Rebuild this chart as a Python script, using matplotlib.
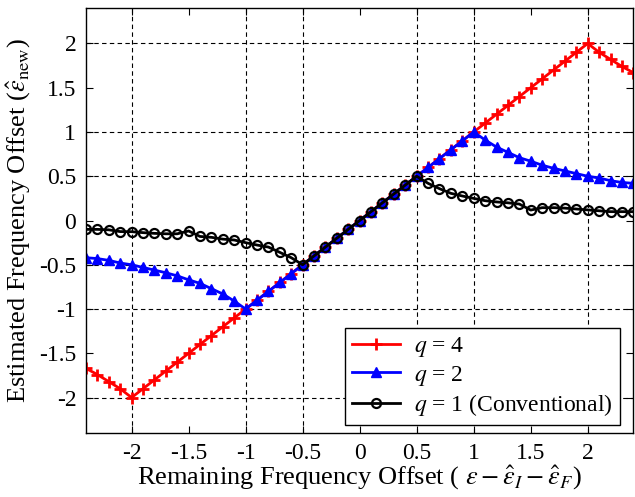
import matplotlib
matplotlib.use("Agg")
import matplotlib.pyplot as plt
import numpy as np

plt.rcParams['font.family'] = ['Liberation Serif', 'DejaVu Serif']
plt.rcParams['mathtext.fontset'] = 'stix'

x = [round(-2.4 + 0.1 * i, 1) for i in range(49)]

# q = 4
q4_right = [1.90, 1.82, 1.74, 1.67]
q4 = [-v for v in q4_right[::-1]] + [round(-2.0 + 0.1 * i, 1) for i in range(41)] + q4_right

# q = 2
q2_right = [0.91, 0.83, 0.77, 0.71, 0.67, 0.625, 0.59, 0.56, 0.53, 0.50, 0.48, 0.45, 0.43, 0.42]
q2 = [-v for v in q2_right[::-1]] + [round(-1.0 + 0.1 * i, 1) for i in range(21)] + q2_right

# q = 1 (Conventional)
q1_left = [-0.10, -0.10, -0.105, -0.125, -0.126, -0.137, -0.145, -0.15, -0.15, -0.118,
           -0.18, -0.19, -0.21, -0.22, -0.25, -0.277, -0.30, -0.36, -0.42]
q1_mid = [-0.5, -0.4, -0.3, -0.2, -0.1, 0.0, 0.1, 0.2, 0.3, 0.4, 0.5]
q1_right = [0.42, 0.36, 0.307, 0.277, 0.25, 0.224, 0.21, 0.20, 0.186, 0.118,
            0.145, 0.145, 0.14, 0.13, 0.12, 0.11, 0.10, 0.10, 0.10]
q1 = q1_left + q1_mid + q1_right

xticks = [-2, -1.5, -1, -0.5, 0, 0.5, 1, 1.5, 2]
yticks = [-2, -1.5, -1, -0.5, 0, 0.5, 1, 1.5, 2]
grid_vals = [-2, -1, -0.5, 0.5, 1, 2]

fig = plt.figure(figsize=(6.35, 4.97), dpi=100)
ax = fig.add_axes([0.1354, 0.1288, 0.862, 0.855])

for g in grid_vals:
    ax.axvline(g, color='black', ls=(0, (4, 3)), lw=0.8, zorder=0)
    ax.axhline(g, color='black', ls=(0, (4, 3)), lw=0.8, zorder=0)

ax.plot(x, q4, color='red', lw=2, marker='+', ms=9, mew=2, label='$q$ = 4')
ax.plot(x, q2, color='blue', lw=2, marker='^', ms=7, mew=1, label='$q$ = 2')
ax.plot(x, q1, color='black', lw=2, marker='o', ms=6.5, mew=1.6, mfc='none', label='$q$ = 1 (Conventional)')

ax.set_xlim(-2.4, 2.4)
ax.set_ylim(-2.4, 2.4)
ax.set_xticks(xticks)
ax.set_yticks(yticks)
ax.set_xticklabels(['-2', '-1.5', '-1', '-0.5', '0', '0.5', '1', '1.5', '2'])
ax.set_yticklabels(['-2', '-1.5', '-1', '-0.5', '0', '0.5', '1', '1.5', '2'])
ax.tick_params(direction='in', top=True, right=True, length=5, labelsize=17, pad=7)
for s in ax.spines.values():
    s.set_linewidth(1.0)

ax.set_xlabel(r'Remaining Frequency Offset ( $\varepsilon - \hat{\varepsilon}_I - \hat{\varepsilon}_F$)', fontsize=19, labelpad=0)
ax.set_ylabel(r'Estimated Frequency Offset ($\hat{\varepsilon}_{\rm new}$)', fontsize=19, labelpad=4)

leg = ax.legend(loc='lower right', fontsize=17, fancybox=False, framealpha=1, edgecolor='black',
                borderpad=0.3, labelspacing=0.18, handlelength=2.0, handletextpad=0.6,
                borderaxespad=0, bbox_to_anchor=(0.975, 0.019))
leg.get_frame().set_linewidth(1.0)

fig.savefig('out.png', dpi=100)
